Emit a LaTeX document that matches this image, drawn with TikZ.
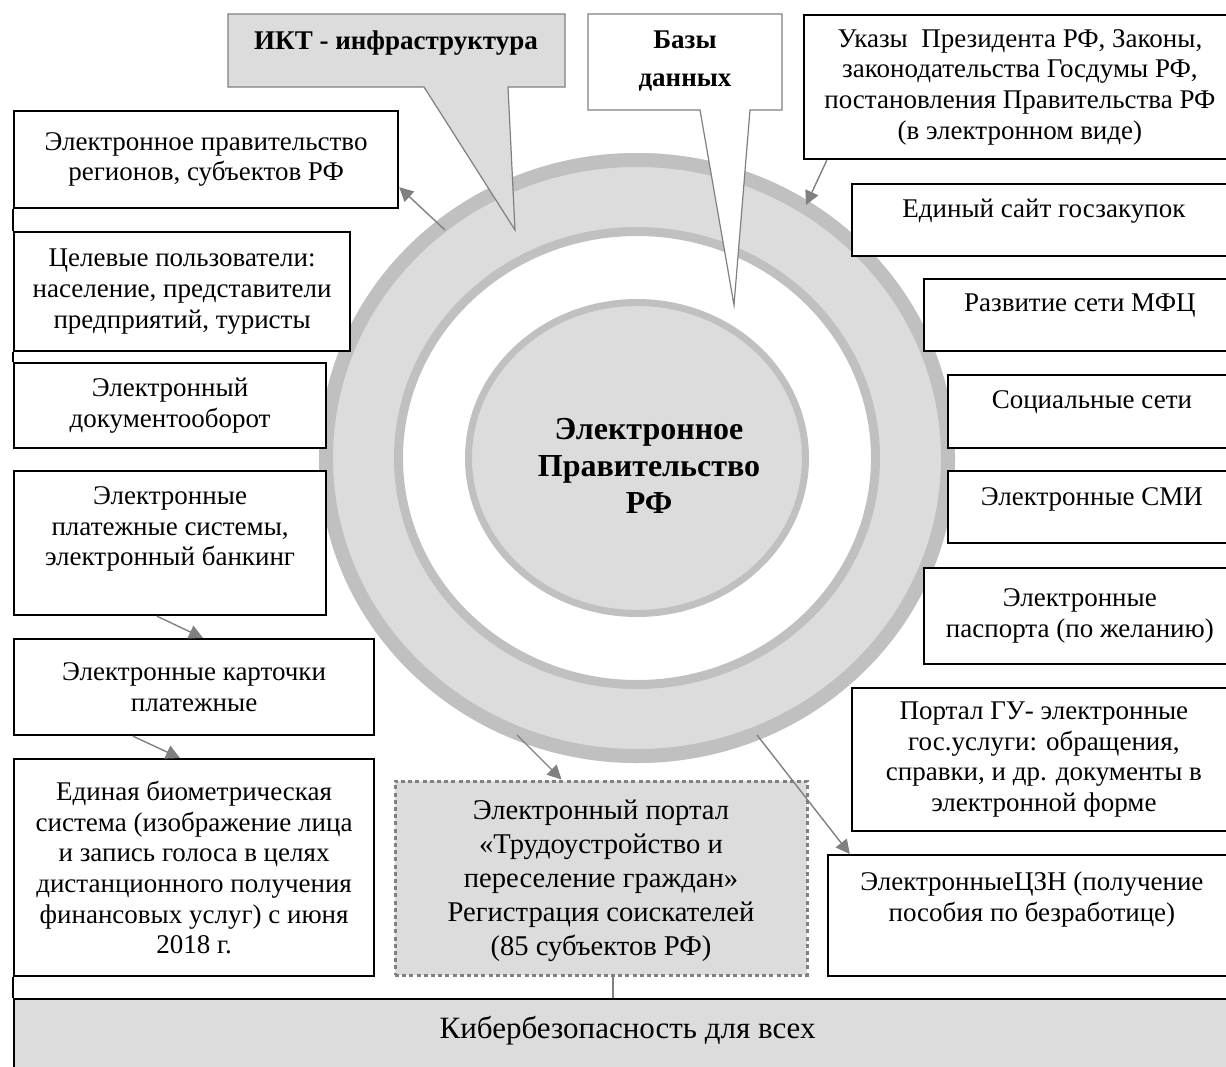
\documentclass[tikz,border=0pt]{standalone}
\usepackage{fontspec}
\setmainfont{Liberation Serif}
\usetikzlibrary{arrows.meta, positioning}

\definecolor{fillgray}{HTML}{DCDCDC}
\definecolor{ringline}{HTML}{C0C0C0}
\definecolor{penline}{HTML}{808080}

\begin{document}
\begin{tikzpicture}[
    x=0.5pt, y=-0.5pt,
    font=\fontsize{13.5}{15.35}\selectfont,
    node distance=11pt,
    box/.style={rectangle, draw, line width=1.1pt, fill=white, align=center, inner sep=2pt},
    lift/.style={text depth=#1},
    bubble/.style={draw=penline, line width=0.6pt},
    arrow/.style={-{Triangle[length=7pt, width=7pt]}, draw=penline, line width=0.7pt, color=penline},
    spine/.style={line width=0.7pt}
]
\useasboundingbox (0,0) rectangle (1226,1066);

% rings
\fill[fillgray, even odd rule] (637,458) ellipse [x radius=159pt, y radius=152.5pt]
    (637,458) ellipse [x radius=119pt, y radius=113pt];
\draw[ringline, line width=7pt] (637,458) ellipse [x radius=155.5pt, y radius=149pt];
\draw[ringline, line width=4.5pt] (637,458) ellipse [x radius=119.25pt, y radius=113.25pt];
\filldraw[fill=fillgray, draw=ringline, line width=3.5pt] (637,458) ellipse [x radius=84.25pt, y radius=77.75pt];
\node[font=\fontsize{16}{18.5}\selectfont\bfseries, align=center] (core) at (649,466) {Электронное\\Правительство\\РФ};

% callouts
\filldraw[bubble, fill=fillgray] (228,14) -- (565,14) -- (565,87) -- (508,87) -- (515,230) -- (424,87) -- (228,87) -- cycle;
\node[font=\fontsize{13.5}{16}\selectfont\bfseries] (ict) at (396,43) {ИКТ - инфраструктура};
\filldraw[bubble, fill=white] (588,14) -- (782,14) -- (782,110) -- (750,110) -- (734,305) -- (700,110) -- (588,110) -- cycle;
\node[font=\fontsize{13.5}{19}\selectfont\bfseries, align=center] (bazy) at (685,61) {Базы\\данных};

% left column
\node[box, minimum width=192pt, minimum height=48.5pt, anchor=north west] (egovreg) at (13,110) {Электронное правительство\\регионов, субъектов РФ};
\node[box, minimum width=168pt, minimum height=59.5pt, below=10.9pt of egovreg.south west, anchor=north west] (users) {Целевые пользователи:\\население, представители\\предприятий, туристы};
\node[box, minimum width=156pt, minimum height=42.5pt, below=4.9pt of users.south west, anchor=north west] (docflow) {Электронный\\документооборот};
\node[box, minimum width=156pt, minimum height=72pt, lift=17pt, below=10.4pt of docflow.south west, anchor=north west] (payments) {Электронные\\платежные системы,\\электронный банкинг};
\node[box, minimum width=180pt, minimum height=48pt, below=10.9pt of payments.south west, anchor=north west] (cards) {Электронные карточки\\платежные};
\node[box, minimum width=180pt, minimum height=108.5pt, below=10.9pt of cards.south west, anchor=north west] (biometry) {Единая биометрическая\\система (изображение лица\\и запись голоса в целях\\дистанционного получения\\финансовых услуг) с июня\\2018 г.};

% right column
\node[box, minimum width=216pt, minimum height=72pt, anchor=north east] (decrees) at (1237,14) {Указы~ Президента РФ, Законы,\\законодательства Госдумы РФ,\\постановления Правительства РФ\\(в электронном виде)};
\node[box, minimum width=192pt, minimum height=36pt, lift=12pt, below=11.4pt of decrees.south east, anchor=north east] (procure) {Единый сайт госзакупок};
\node[box, minimum width=156pt, minimum height=36pt, lift=12pt, below=10.4pt of procure.south east, anchor=north east] (mfc) {Развитие сети МФЦ};
\node[box, minimum width=144pt, minimum height=36.5pt, lift=12pt, below=10.9pt of mfc.south east, anchor=north east] (social) {Социальные сети};
\node[box, minimum width=144pt, minimum height=36pt, lift=11pt, below=10.4pt of social.south east, anchor=north east] (media) {Электронные СМИ};
\node[box, minimum width=156pt, minimum height=48pt, below=11.4pt of media.south east, anchor=north east] (passport) {Электронные\\паспорта (по желанию)};
\node[box, minimum width=192pt, minimum height=71.5pt, below=10.9pt of passport.south east, anchor=north east] (gosusl) {Портал ГУ- электронные\\гос.услуги: обращения,\\справки, и др. документы в\\электронной форме};
\node[box, minimum width=204pt, minimum height=60.5pt, lift=19pt, below=10.9pt of gosusl.south east, anchor=north east] (czn) {ЭлектронныеЦЗН (получение\\пособия по безработице)};

% bottom
\node[box, fill=fillgray, draw=penline, line width=1.5pt, dash pattern=on 2pt off 1.6pt, minimum width=206pt, minimum height=97pt, font=\fontsize{14.3}{17}\selectfont, lift=0pt] (portal) at (601,878) {Электронный портал\\«Трудоустройство и\\переселение граждан»\\Регистрация соискателей\\(85 субъектов РФ)};
\node[box, fill=fillgray, minimum width=613.5pt, minimum height=41pt, anchor=north west, font=\fontsize{15.5}{18}\selectfont, lift=13pt] (cyber) at (13,998) {Кибербезопасность для всех};

% connectors
\coordinate (r1) at (445,230);
\coordinate (r2) at (806,205);
\coordinate (r3) at (517,735);
\coordinate (r4) at (757,735);
\draw[arrow] (r1) -- ([yshift=11pt]egovreg.south east);
\draw[arrow] ([xshift=12pt]decrees.south west) -- (r2);
\draw[arrow] ([xshift=72pt]payments.south west) -- ([xshift=95pt]cards.north west);
\draw[arrow] ([xshift=60pt]cards.south west) -- ([xshift=83.5pt]biometry.north west);
\draw[arrow] (r3) -- ([xshift=84pt]portal.north west);
\draw[arrow] (r4) -- ([xshift=11.5pt]czn.north west);
\draw[penline, line width=0.7pt] ([xshift=6pt]portal.south) -- ([xshift=6pt]portal.south |- cyber.north);
\draw[spine] (egovreg.south west) -- (users.north west);
\draw[spine] (users.south west) -- (docflow.north west);
\draw[spine] (biometry.south west) -- (cyber.north west);
\end{tikzpicture}
\end{document}
